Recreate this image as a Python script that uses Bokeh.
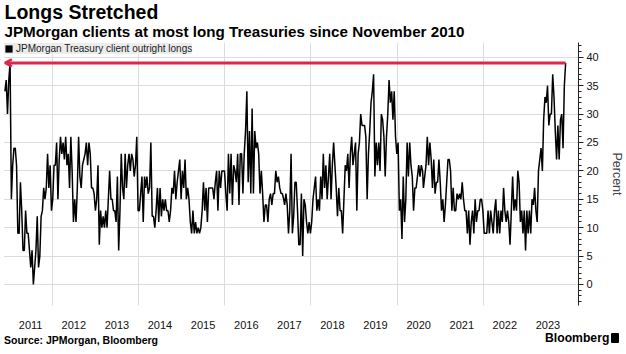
import numpy as np
import pandas as pd
from bokeh.plotting import figure
from bokeh.layouts import column
from bokeh.models import (Range1d, FixedTicker, SingleIntervalTicker, DatetimeTickFormatter,
                          Label, Arrow, OpenHead, Legend, LegendItem, ColumnDataSource, Div)
from bokeh.embed import file_html
from bokeh.resources import INLINE

# ---- data, in four consecutive stretches ----
seg1_dates = ("2010-11-26", "2014-02-21")
seg1_vals = [34, 36, 30, 36, 39, 15, 21, 24, 24, 21,
             9, 9, 18, 13, 6, 6, 13, 9, 9, 6,
             3, 6, 0, 3, 6, 12, 3, 5, 12, 13,
             17, 15, 17, 23, 17, 21, 13, 15, 21, 21,
             25, 15, 22, 26, 23, 25, 22, 26, 21, 23,
             17, 26, 20, 11, 15, 11, 17, 26, 19, 17,
             21, 22, 23, 25, 21, 25, 23, 17, 17, 16,
             13, 15, 21, 7, 13, 10, 12, 10, 13, 10,
             15, 20, 15, 15, 13, 13, 11, 19, 6, 13,
             23, 17, 15, 23, 17, 21, 23, 20, 23, 22,
             19, 21, 26, 13, 13, 16, 19, 11, 19]

seg2_dates = ("2014-03-02", "2017-05-15")
seg2_vals = [17, 19, 16, 17, 25, 12, 12, 10, 13, 17,
             11, 17, 12, 15, 13, 15, 13, 13, 11, 13,
             17, 16, 20, 15, 18, 20, 22, 15, 20, 17,
             22, 15, 17, 15, 11, 9, 13, 9, 11, 9,
             10, 9, 10, 13, 18, 13, 17, 11, 17, 17,
             17, 17, 15, 18, 20, 13, 20, 17, 20, 20,
             20, 16, 13, 23, 16, 23, 14, 21, 20, 18,
             23, 14, 23, 23, 16, 23, 27, 34, 18, 27,
             16, 31, 16, 27, 24, 25, 23, 16, 20, 16,
             11, 14, 14, 11, 15, 16, 14, 16, 16, 20,
             18, 19, 17, 16, 16, 15]

seg3_dates = ("2017-05-23", "2020-08-04")
seg3_vals = [14, 16, 14, 9, 13, 23, 9, 12, 18, 18,
             13, 7, 7, 16, 5, 15, 14, 11, 9, 11,
             9, 11, 15, 17, 19, 13, 15, 13, 19, 15,
             23, 17, 21, 15, 19, 23, 15, 21, 25, 21,
             17, 12, 17, 13, 13, 9, 15, 21, 20, 23,
             17, 23, 26, 21, 23, 25, 13, 23, 25, 30,
             28, 28, 28, 26, 15, 23, 27, 32, 34, 37,
             19, 25, 21, 25, 20, 30, 29, 26, 19, 26,
             30, 36, 32, 34, 29, 34, 26, 23, 25, 13,
             15, 8, 19, 11, 15, 25, 19, 25, 21, 19,
             13, 17, 17, 19, 21, 19, 21, 20]

seg4_dates = ("2020-08-11", "2023-11-29")
seg4_vals = [17, 19, 21, 26, 21, 25, 22, 17, 22, 16,
             18, 18, 22, 18, 13, 15, 11, 14, 18, 22,
             22, 20, 13, 17, 13, 13, 16, 15, 16, 15,
             18, 15, 13, 13, 9, 13, 7, 11, 13, 9,
             15, 11, 13, 13, 15, 15, 13, 9, 9, 9,
             13, 9, 13, 11, 9, 13, 15, 9, 13, 9,
             13, 11, 17, 13, 11, 13, 11, 7, 13, 19,
             13, 15, 13, 20, 18, 11, 13, 9, 13, 6,
             13, 9, 13, 9, 15, 14, 17, 13, 11, 20,
             22, 24, 20, 29, 33, 32, 35, 28, 30, 30,
             37, 33, 27, 22, 28, 22, 29, 30, 24, 35, 39]

year_labels = list(range(2011, 2024))
grid_years = [2012, 2014, 2016, 2018, 2020, 2022]
series_name = "JPMorgan Treasury client outright longs"
title_text = "Longs Stretched"
subtitle_text = "JPMorgan clients at most long Treasuries since November 2010"
source_text = "Source: JPMorgan, Bloomberg"
brand_text = "Bloomberg"

segments = [(seg1_dates, seg1_vals), (seg2_dates, seg2_vals),
            (seg3_dates, seg3_vals), (seg4_dates, seg4_vals)]
dates = pd.DatetimeIndex(np.concatenate(
    [pd.date_range(d[0], d[1], periods=len(v)).values for d, v in segments]))
values = [x for _, v in segments for x in v]
src = ColumnDataSource(dict(date=dates, value=values))

def ms(ts):
    return pd.Timestamp(ts).value / 1e6

RED = "#e0264b"
FONT = "Liberation Sans"
W = 626

# ---- header (its frame is aligned with the chart frame: left edge at x=3) ----
head = figure(width=W, height=42, x_range=Range1d(0, 1), y_range=Range1d(0, 1),
              x_axis_type=None, y_axis_type=None, output_backend="svg",
              toolbar_location=None, min_border=0, title=None)
head.outline_line_color = None
head.xgrid.visible = False
head.ygrid.visible = False
head.add_layout(Label(x=1, y=31, x_units="screen", y_units="screen", text=title_text,
                      text_font=FONT, text_font_style="bold", text_font_size="19.5px",
                      text_baseline="middle", text_color="black"))
head.add_layout(Label(x=1, y=11, x_units="screen", y_units="screen", text=subtitle_text,
                      text_font=FONT, text_font_style="bold", text_font_size="15.2px",
                      text_baseline="middle", text_color="black"))

# ---- main chart ----
p = figure(width=W, height=292, x_axis_type="datetime", y_axis_location="right",
           x_range=Range1d(pd.Timestamp("2010-11-14"), pd.Timestamp("2024-03-17")),
           y_range=Range1d(-3.7, 42.6), title=None,
           output_backend="svg", toolbar_location=None,
           min_border_left=3, min_border_right=44, min_border_top=0, min_border_bottom=29)
p.outline_line_color = None

p.xgrid.ticker = FixedTicker(ticks=[ms(f"{y}-01-01") for y in grid_years])
p.xgrid.grid_line_color = "#dcdcdc"
p.ygrid.grid_line_color = "#dcdcdc"

p.xaxis.ticker = FixedTicker(ticks=[ms(f"{y}-07-02") for y in year_labels])
p.xaxis.formatter = DatetimeTickFormatter(days="%Y", months="%Y", years="%Y", hours="%Y")
p.xaxis.axis_line_color = None
p.xaxis.major_tick_line_color = None
p.xaxis.minor_tick_line_color = None
p.xaxis.major_tick_out = 0
p.xaxis.major_tick_in = 0
p.xaxis.major_label_standoff = 15
p.xaxis.major_label_text_font = FONT
p.xaxis.major_label_text_font_size = "11px"
p.xaxis.major_label_text_color = "#111111"

p.yaxis.ticker = SingleIntervalTicker(interval=5, num_minor_ticks=5)
p.yaxis.axis_line_color = "#222222"
p.yaxis.major_tick_in = 0
p.yaxis.major_tick_out = 5
p.yaxis.minor_tick_in = 0
p.yaxis.minor_tick_out = 3
p.yaxis.major_tick_line_color = "#222222"
p.yaxis.minor_tick_line_color = "#222222"
p.yaxis.major_label_standoff = 3
p.yaxis.major_label_text_font = FONT
p.yaxis.major_label_text_font_size = "11px"
p.yaxis.major_label_text_color = "#111111"
p.yaxis.axis_label = "Percent"
p.yaxis.axis_label_text_font = FONT
p.yaxis.axis_label_text_font_style = "normal"
p.yaxis.axis_label_text_font_size = "12.5px"
p.yaxis.axis_label_standoff = 8

p.line("date", "value", source=src, line_color="black", line_width=1.5)

p.add_layout(Arrow(x_start=dates[-1].value / 1e6, y_start=values[-1],
                   x_end=dates[0].value / 1e6, y_end=values[-1],
                   line_color=RED, line_width=3,
                   end=OpenHead(size=7, line_color=RED, line_width=2.5)))

# legend swatch: zero-height bars on the series itself (invisible on the chart)
sw = p.vbar(x="date", top="value", bottom="value", width=0, source=src,
            fill_color="black", line_color=None)
legend = Legend(items=[LegendItem(label=series_name, renderers=[sw])],
                location="top_left", margin=1, padding=4, spacing=0,
                glyph_width=9, glyph_height=9, label_standoff=3, label_height=10,
                label_text_font=FONT, label_text_font_size="10px",
                label_text_color="#222222",
                background_fill_color="#ececec", background_fill_alpha=1,
                border_line_color=None)
p.add_layout(legend)

# ---- footer (HTML text, full width) ----
span = ("position:absolute;top:0;white-space:nowrap;color:#000;"
        "font-family:'Liberation Sans';font-weight:bold;")
foot = Div(text=(
    '<div style="position:relative;width:626px;height:20px;">'
    f'<span style="{span}left:4px;font-size:10.5px;line-height:12px;">{source_text}</span>'
    f'<span style="{span}left:545px;font-size:12.2px;line-height:8px;">{brand_text}</span>'
    '<span style="position:absolute;left:611px;top:-1px;width:8px;height:10px;'
    'background:#000;border-radius:1px;"></span>'
    '</div>'),
    width=W, height=20, styles={"margin": "0", "padding": "0", "overflow": "visible"})

layout = column(head, p, foot, spacing=0)
open("out.html", "w").write(file_html(layout, INLINE))
